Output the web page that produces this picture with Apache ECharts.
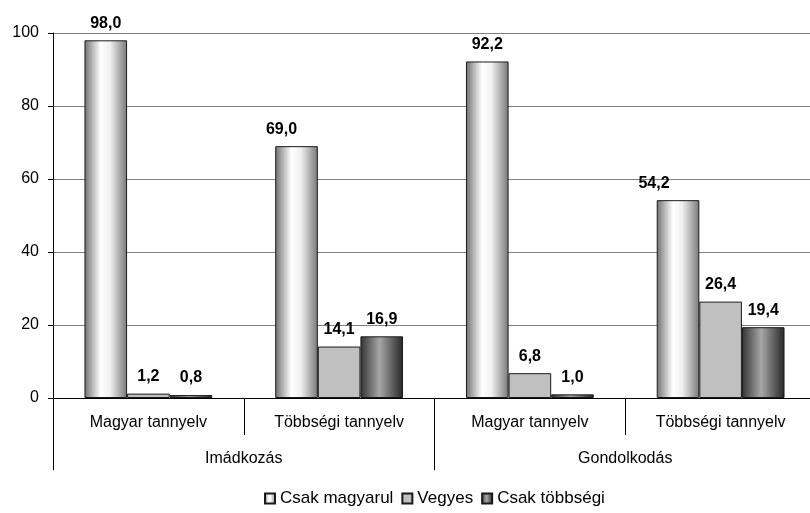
<!DOCTYPE html>
<html>
<head>
<meta charset="utf-8">
<script src="https://cdn.jsdelivr.net/npm/echarts@6/dist/echarts.min.js"></script>
<style>
  html, body { margin: 0; padding: 0; background: #ffffff; }
  #chart { width: 810px; height: 513px; }
</style>
</head>
<body>
<div id="chart"></div>
<script>
// Inner categories (language of instruction) and outer groups (activity)
const innerCategories = ['Magyar tannyelv', 'Többségi tannyelv', 'Magyar tannyelv', 'Többségi tannyelv'];
const outerCategories = ['Imádkozás', 'Gondolkodás'];

const seriesNames = ['Csak magyarul', 'Vegyes', 'Csak többségi'];
const csakMagyarul = [98.0, 69.0, 92.2, 54.2];
const vegyes = [1.2, 14.1, 6.8, 26.4];
const csakTobbsegi = [0.8, 16.9, 1.0, 19.4];

const yTicks = [0, 20, 40, 60, 80, 100];

const FONT = '"Liberation Sans", Arial, sans-serif';

const hGrad = (stops) => ({
  type: 'linear', x: 0, y: 0, x2: 1, y2: 0,
  colorStops: stops.map(([offset, color]) => ({ offset, color }))
});

const lightCylinder = hGrad([[0, '#707070'], [0.38, '#ffffff'], [0.6, '#f0f0f0'], [1, '#787878']]);
const darkCylinder = hGrad([[0, '#333333'], [0.45, '#a6a6a6'], [1, '#262626']]);

// Labels of a couple of tall bars sit a little to the left of their bars
const labelShift = {
  'Csak magyarul': [0, -15, 0, -24]
};

function makeSeries(name, values, color) {
  const shifts = labelShift[name] || [0, 0, 0, 0];
  return {
    name,
    type: 'bar',
    xAxisIndex: 0,
    barGap: '0%',
    barCategoryGap: '33%',
    itemStyle: { color, borderColor: '#1a1a1a', borderWidth: 1 },
    label: {
      show: true,
      position: 'top',
      distance: 9,
      fontFamily: FONT,
      fontSize: 16,
      fontWeight: 'bold',
      color: '#000000',
      formatter: (p) => p.value.toFixed(1).replace('.', ',')
    },
    data: values.map((v, i) => ({
      value: v,
      label: { offset: [shifts[i], 0] }
    }))
  };
}

const chart = echarts.init(document.getElementById('chart'), null, { renderer: 'canvas' });

chart.setOption({
  animation: false,
  backgroundColor: '#ffffff',
  // plot area runs a few pixels past the right edge of the canvas
  grid: {
    left: 53, width: 763, top: 33, bottom: 115,
    containLabel: false,
    outerBoundsMode: 'none'
  },
  legend: {
    data: seriesNames,
    left: 259,
    top: 485,
    icon: 'rect',
    itemWidth: 10,
    itemHeight: 10,
    itemGap: 8,
    textStyle: { fontFamily: FONT, fontSize: 17, color: '#000000' }
  },
  xAxis: [
    {
      type: 'category',
      position: 'bottom',
      data: innerCategories,
      axisLine: { show: true, lineStyle: { color: '#000000', width: 1 } },
      axisTick: { show: true, interval: 0, length: 37, lineStyle: { color: '#000000' } },
      axisLabel: { interval: 0, margin: 17, fontFamily: FONT, fontSize: 16, color: '#000000' },
      splitLine: { show: false }
    },
    {
      type: 'category',
      position: 'bottom',
      data: outerCategories,
      axisLine: { show: false },
      axisTick: { show: true, interval: 0, length: 72, lineStyle: { color: '#000000' } },
      axisLabel: { interval: 0, margin: 53, fontFamily: FONT, fontSize: 16, color: '#000000' },
      splitLine: { show: false }
    }
  ],
  yAxis: {
    type: 'value',
    min: yTicks[0],
    max: yTicks[yTicks.length - 1],
    interval: 20,
    axisLine: { show: true, lineStyle: { color: '#000000', width: 1 } },
    axisTick: { show: true, length: 5, lineStyle: { color: '#000000' } },
    axisLabel: { margin: 14, fontFamily: FONT, fontSize: 16, color: '#000000' },
    splitLine: { show: true, lineStyle: { color: '#808080', width: 1 } }
  },
  series: [
    makeSeries(seriesNames[0], csakMagyarul, lightCylinder),
    makeSeries(seriesNames[1], vegyes, '#c0c0c0'),
    makeSeries(seriesNames[2], csakTobbsegi, darkCylinder)
  ]
});
</script>
</body>
</html>
